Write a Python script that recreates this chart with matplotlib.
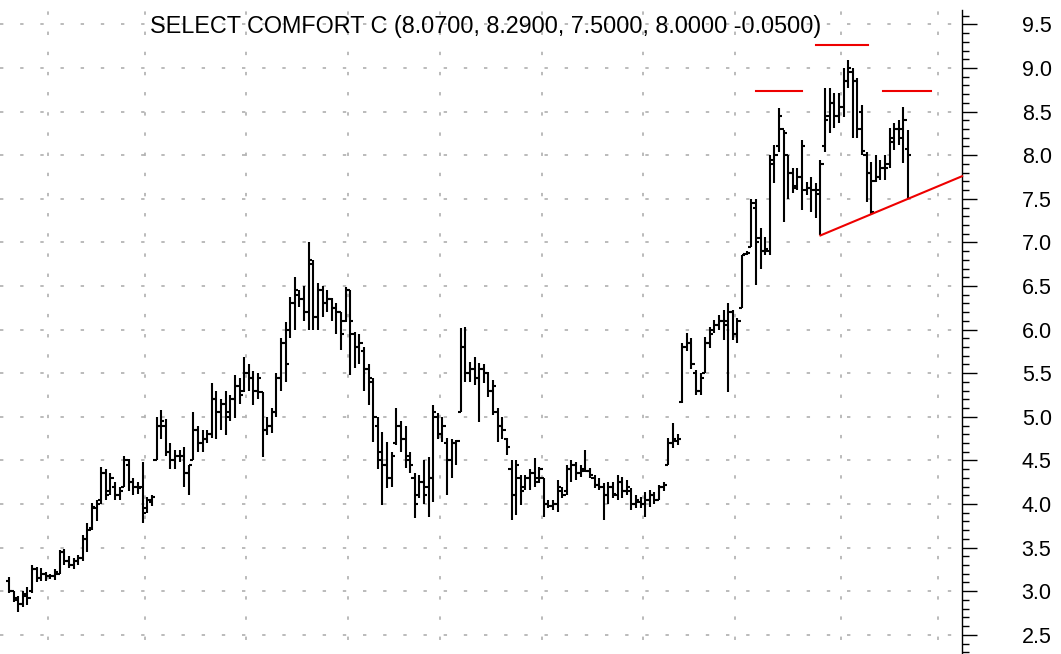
import numpy as np
import matplotlib.pyplot as plt
from matplotlib.ticker import MultipleLocator, FormatStrFormatter

# daily OHLC
highs = [3.16, 3.00, 2.95, 3.00, 3.05, 3.30, 3.28, 3.27, 3.22, 3.20,
         3.25, 3.47, 3.48, 3.40, 3.38, 3.42, 3.65, 3.78, 4.01, 4.05,
         4.42, 4.40, 4.35, 4.25, 4.20, 4.55, 4.52, 4.30, 4.25, 4.48,
         4.08, 4.10, 5.00, 5.08, 4.98, 4.70, 4.62, 4.62, 4.65, 4.45,
         5.05, 4.90, 4.85, 4.85, 5.39, 5.30, 5.20, 5.30, 5.25, 5.48,
         5.45, 5.69, 5.60, 5.53, 5.50, 5.28, 5.00, 5.10, 5.50, 5.90,
         6.09, 6.37, 6.60, 6.45, 6.50, 7.00, 6.80, 6.53, 6.50, 6.45,
         6.36, 6.30, 6.20, 6.49, 6.45, 5.97, 5.95, 5.80, 5.60, 5.44,
         5.00, 4.83, 4.71, 4.60, 5.10, 4.95, 4.90, 4.60, 4.36, 4.33,
         4.50, 4.54, 5.14, 5.04, 5.00, 4.76, 4.75, 4.73, 6.02, 6.03,
         5.63, 5.69, 5.62, 5.60, 5.51, 5.42, 5.10, 5.00, 4.76, 4.50,
         4.50, 4.33, 4.33, 4.40, 4.53, 4.42, 4.30, 4.05, 4.05, 4.28,
         4.20, 4.45, 4.50, 4.48, 4.45, 4.62, 4.41, 4.33, 4.30, 4.24,
         4.25, 4.25, 4.33, 4.31, 4.28, 4.18, 4.10, 4.08, 4.14, 4.16,
         4.14, 4.22, 4.25, 4.76, 4.93, 4.80, 5.85, 5.96, 5.90, 5.54,
         5.50, 5.92, 6.03, 6.11, 6.17, 6.22, 6.30, 6.22, 6.13, 6.86,
         6.90, 7.50, 7.50, 7.17, 7.06, 8.00, 8.12, 8.54, 8.29, 8.00,
         7.85, 7.85, 8.17, 7.69, 7.75, 7.68, 7.94, 8.77, 8.77, 8.71,
         8.71, 9.00, 9.09, 9.00, 8.89, 8.58, 8.04, 7.92, 8.00, 7.94,
         8.00, 8.31, 8.37, 8.40, 8.55, 8.29]
lows = [2.98, 2.88, 2.76, 2.82, 2.84, 2.98, 3.10, 3.12, 3.12, 3.14,
        3.13, 3.20, 3.30, 3.27, 3.25, 3.30, 3.35, 3.45, 3.70, 3.80,
        4.00, 4.05, 4.10, 4.05, 4.05, 4.20, 4.15, 4.10, 4.12, 3.78,
        3.90, 3.98, 4.50, 4.75, 4.55, 4.40, 4.40, 4.48, 4.20, 4.10,
        4.50, 4.60, 4.60, 4.70, 4.76, 4.75, 4.85, 4.79, 4.95, 4.99,
        5.15, 5.28, 5.30, 5.14, 5.20, 4.54, 4.79, 4.82, 5.00, 5.30,
        5.40, 5.90, 6.00, 6.26, 6.10, 6.00, 6.00, 6.00, 6.15, 6.20,
        6.10, 5.95, 5.77, 6.09, 5.48, 5.56, 5.60, 5.30, 5.14, 4.71,
        4.40, 3.99, 4.18, 4.20, 4.68, 4.60, 4.41, 4.35, 3.84, 4.07,
        4.00, 3.85, 4.02, 4.75, 4.71, 4.10, 4.30, 4.45, 5.05, 5.40,
        5.40, 5.36, 4.94, 5.39, 5.23, 5.02, 4.71, 4.75, 4.56, 3.82,
        3.87, 3.99, 4.16, 4.16, 4.20, 4.24, 3.85, 3.95, 3.93, 3.91,
        4.07, 4.10, 4.25, 4.28, 4.31, 4.37, 4.30, 4.18, 4.16, 3.82,
        4.00, 4.07, 4.05, 4.07, 4.10, 3.93, 3.95, 3.95, 3.85, 3.97,
        4.00, 4.05, 4.15, 4.45, 4.64, 4.68, 5.16, 5.75, 5.55, 5.25,
        5.25, 5.50, 5.79, 5.96, 6.00, 5.88, 5.28, 5.88, 5.85, 6.25,
        6.85, 6.95, 6.51, 6.70, 6.86, 6.86, 7.68, 8.04, 7.23, 7.50,
        7.57, 7.60, 7.37, 7.54, 7.35, 7.28, 7.08, 8.04, 8.25, 8.31,
        8.37, 8.44, 8.77, 8.20, 8.20, 8.00, 7.46, 7.31, 7.69, 7.72,
        7.72, 7.85, 8.06, 8.12, 7.91, 7.50]
opens = [3.12, 3.00, 2.90, 2.85, 2.95, 3.00, 3.25, 3.15, 3.20, 3.17,
         3.18, 3.20, 3.45, 3.35, 3.30, 3.35, 3.38, 3.60, 3.72, 3.95,
         4.05, 4.35, 4.15, 4.20, 4.10, 4.20, 4.45, 4.25, 4.20, 4.20,
         3.95, 4.02, 4.50, 4.90, 4.90, 4.60, 4.50, 4.55, 4.55, 4.35,
         4.50, 4.85, 4.70, 4.75, 4.80, 5.20, 5.05, 5.15, 5.05, 5.20,
         5.35, 5.30, 5.50, 5.45, 5.30, 5.28, 4.85, 4.90, 5.05, 5.45,
         5.85, 6.00, 6.30, 6.40, 6.35, 6.20, 6.75, 6.15, 6.45, 6.30,
         6.35, 6.25, 6.20, 6.10, 6.45, 5.95, 5.80, 5.75, 5.55, 5.40,
         4.90, 4.60, 4.45, 4.30, 4.70, 4.90, 4.75, 4.50, 4.30, 4.10,
         4.25, 4.20, 4.30, 5.00, 4.80, 4.70, 4.50, 4.70, 5.05, 5.80,
         5.50, 5.55, 5.45, 5.55, 5.50, 5.30, 5.05, 4.90, 4.75, 4.40,
         4.10, 4.30, 4.20, 4.30, 4.35, 4.30, 4.30, 4.00, 3.98, 4.00,
         4.15, 4.15, 4.40, 4.45, 4.35, 4.40, 4.38, 4.30, 4.22, 4.20,
         4.10, 4.20, 4.10, 4.25, 4.15, 4.15, 4.00, 4.02, 4.00, 4.05,
         4.10, 4.05, 4.20, 4.45, 4.70, 4.72, 5.17, 5.80, 5.85, 5.50,
         5.30, 5.50, 5.85, 6.00, 6.05, 6.10, 6.10, 6.20, 5.95, 6.25,
         6.87, 6.95, 7.40, 7.05, 6.90, 6.90, 7.95, 8.10, 8.30, 8.00,
         7.80, 7.65, 7.75, 7.60, 7.62, 7.60, 7.55, 8.10, 8.45, 8.60,
         8.45, 8.55, 8.85, 8.95, 8.85, 8.50, 8.00, 7.80, 7.70, 7.75,
         7.85, 7.90, 8.15, 8.30, 8.30, 8.07]
closes = [3.00, 2.92, 2.85, 2.97, 2.92, 3.25, 3.15, 3.20, 3.17, 3.18,
          3.22, 3.45, 3.35, 3.30, 3.35, 3.38, 3.60, 3.70, 3.97, 4.00,
          4.35, 4.10, 4.30, 4.10, 4.15, 4.50, 4.25, 4.20, 4.18, 3.90,
          4.05, 4.08, 4.90, 4.95, 4.60, 4.50, 4.55, 4.55, 4.35, 4.45,
          4.85, 4.70, 4.75, 4.80, 5.20, 5.05, 5.15, 5.00, 5.20, 5.35,
          5.25, 5.50, 5.45, 5.30, 5.45, 4.85, 4.90, 5.05, 5.45, 5.85,
          5.60, 6.30, 6.45, 6.35, 6.20, 6.80, 6.15, 6.45, 6.30, 6.35,
          6.25, 6.20, 5.95, 6.45, 6.10, 5.80, 5.85, 5.55, 5.45, 5.00,
          4.50, 4.45, 4.30, 4.55, 4.90, 4.75, 4.55, 4.45, 4.00, 4.25,
          4.10, 4.30, 5.05, 4.80, 4.90, 4.50, 4.70, 4.72, 5.80, 5.50,
          5.55, 5.45, 5.55, 5.50, 5.30, 5.35, 4.90, 4.85, 4.65, 4.10,
          4.45, 4.15, 4.30, 4.35, 4.25, 4.40, 4.00, 3.98, 4.00, 4.20,
          4.10, 4.40, 4.45, 4.35, 4.38, 4.38, 4.33, 4.22, 4.20, 4.10,
          4.20, 4.12, 4.25, 4.15, 4.20, 4.00, 4.05, 4.00, 4.05, 4.10,
          4.05, 4.20, 4.22, 4.70, 4.75, 4.75, 5.80, 5.85, 5.60, 5.30,
          5.45, 5.85, 5.95, 6.05, 6.10, 6.05, 6.20, 5.95, 6.10, 6.85,
          6.88, 7.45, 7.00, 6.90, 6.92, 7.90, 8.00, 8.45, 8.25, 7.80,
          7.62, 7.75, 8.10, 7.62, 7.60, 7.60, 7.90, 8.40, 8.60, 8.45,
          8.55, 8.85, 9.00, 8.85, 8.30, 8.05, 7.80, 7.35, 7.75, 7.85,
          7.85, 8.20, 8.30, 8.20, 8.40, 8.00]

# bar index where each new month starts (dotted vertical grid)
month_breaks = [8.5, 29.5, 51.5, 73.5, 93.5, 115.5, 137.5, 157.5, 180.5, 201.5]

# head & shoulders annotation: (start bar, end bar, level)
shoulder_lines = [(162, 172, 8.74), (175, 186.3, 9.26), (189.6, 200, 8.74)]
trend_bars = [176, 195]   # trendline through these lows

title = "SELECT COMFORT C (8.0700, 8.2900, 7.5000, 8.0000 -0.0500)"

x = np.arange(len(highs))
half = 0.72

fig = plt.figure(figsize=(10.61, 6.54), dpi=100)
ax = fig.add_axes([0, 0, 962 / 1061, 1 - 10 / 654])
ax.set_xlim(-1.95, 206.7)
ax.set_ylim(2.28, 9.665)

# grid
grid_kw = dict(color='#a8a8a8', lw=1.1, linestyle=(0, (2.2, 11)), zorder=0)
for lvl in np.arange(2.5, 9.51, 0.5):
    ax.axhline(lvl, **grid_kw)
for mb in month_breaks:
    ax.axvline(mb, **dict(grid_kw, linestyle=(4, (2.2, 11))))

# OHLC bars
ax.vlines(x, lows, highs, color='black', lw=1.5, zorder=3)
ax.hlines(opens, x - half, x, color='black', lw=1.5, zorder=3)
ax.hlines(closes, x, x + half, color='black', lw=1.5, zorder=3)

# red pattern lines
for x0, x1, lvl in shoulder_lines:
    ax.plot([x0, x1], [lvl, lvl], color='#ee0000', lw=1.5, zorder=4)
b0, b1 = trend_bars
slope = (lows[b1] - lows[b0]) / (b1 - b0)
xe = ax.get_xlim()[1]
ax.plot([b0, xe], [lows[b0], lows[b0] + slope * (xe - b0)],
        color='#ee0000', lw=1.5, zorder=4, clip_on=False)

# axes styling
for s in ['left', 'top', 'bottom']:
    ax.spines[s].set_visible(False)
ax.spines['right'].set_linewidth(1.0)
ax.set_xticks([])
ax.yaxis.tick_right()
ax.yaxis.set_major_locator(MultipleLocator(0.5))
ax.yaxis.set_minor_locator(MultipleLocator(0.1))
ax.yaxis.set_major_formatter(FormatStrFormatter('%.1f'))
ax.tick_params(axis='y', which='major', length=11, width=1.0, pad=32,
               labelsize=15.5)
ax.tick_params(axis='y', which='minor', length=5, width=1.0)
for lab in ax.get_yticklabels():
    lab.set_fontfamily(['Liberation Sans', 'DejaVu Sans'])

fig.text(150 / 1061, 1 - 27 / 654, title, ha='left', va='center',
         fontsize=16.8, family=['Liberation Sans', 'DejaVu Sans'])

fig.savefig('out.png', dpi=100)
